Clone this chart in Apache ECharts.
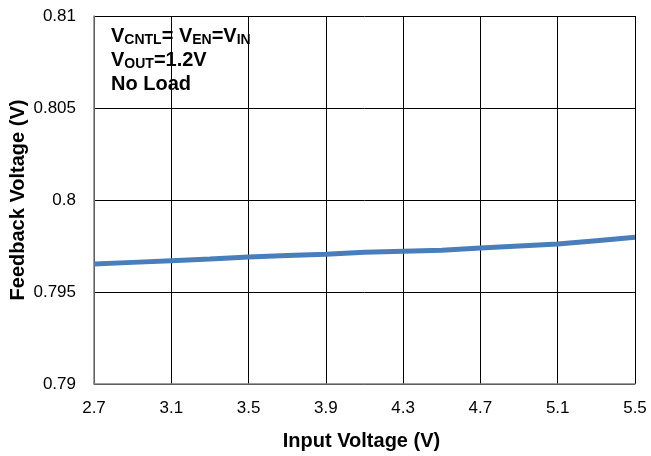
<!DOCTYPE html>
<html><head><meta charset="utf-8">
<script src="https://cdn.jsdelivr.net/npm/echarts@6/dist/echarts.min.js"></script>
<style>html,body{margin:0;padding:0;background:#fff}#c{width:651px;height:456px}</style>
</head><body><div id="c"></div>
<script>
const inputVoltage = [2.7, 2.9, 3.1, 3.3, 3.5, 3.7, 3.9, 4.1, 4.3, 4.5, 4.7, 4.9, 5.1, 5.3, 5.5];
const feedbackVoltage = [0.79652, 0.79661, 0.79670, 0.79679, 0.79690, 0.79698, 0.79705, 0.79716, 0.79722, 0.79727, 0.79739, 0.79750, 0.79761, 0.79779, 0.79797];
const xTicks = [2.7, 3.1, 3.5, 3.9, 4.3, 4.7, 5.1, 5.5];
const yTicks = [0.79, 0.795, 0.8, 0.805, 0.81];
const yTickLabels = ['0.79', '0.795', '0.8', '0.805', '0.81'];

const chart = echarts.init(document.getElementById('c'));
const font = 'Liberation Sans, Arial, sans-serif';
chart.setOption({
  animation: false,
  grid: {left: 94, right: 16, top: 16, bottom: 72, containLabel: false, outerBoundsMode: 'none'},
  xAxis: {
    type: 'value', min: 2.7, max: 5.5,
    name: 'Input Voltage (V)', nameLocation: 'middle', nameGap: 47, nameMoveOverlap: false,
    nameTextStyle: {fontFamily: font, fontWeight: 'bold', fontSize: 20, color: '#000', padding: [0, 6, 0, 0]},
    axisLine: {show: true, lineStyle: {color: '#808080', width: 1.5}},
    axisTick: {show: false, customValues: xTicks},
    axisLabel: {customValues: xTicks, fontFamily: font, fontSize: 17, color: '#000', margin: 16,
      formatter: v => String(Math.round(v * 10) / 10)},
    splitLine: {show: true, lineStyle: {color: '#000', width: 1}}
  },
  yAxis: {
    type: 'value', min: 0.79, max: 0.81, interval: 0.005,
    name: 'Feedback Voltage (V)', nameLocation: 'middle', nameGap: 66, nameRotate: 90, nameMoveOverlap: false,
    nameTextStyle: {fontFamily: font, fontWeight: 'bold', fontSize: 20, color: '#000'},
    axisLine: {show: true, lineStyle: {color: '#808080', width: 1.5}},
    axisTick: {show: false},
    axisLabel: {fontFamily: font, fontSize: 17, color: '#000', margin: 18,
      formatter: v => { const i = yTicks.findIndex(t => Math.abs(t - v) < 1e-9); return i >= 0 ? yTickLabels[i] : ''; }},
    splitLine: {show: true, lineStyle: {color: '#000', width: 1}}
  },
  series: [{
    type: 'line', data: inputVoltage.map((x, i) => [x, feedbackVoltage[i]]),
    showSymbol: false, smooth: false,
    lineStyle: {color: '#4A7EBB', width: 5}
  }],
  graphic: [{
    type: 'text', left: 111, top: 26,
    style: {
      text: '{v|V}{s|CNTL}{v|= V}{s|EN}{v|=V}{s|IN}\n{v|V}{s|OUT}{v|=1.2V}\n{v|No Load}',
      fontFamily: font, fill: '#000',
      rich: {
        v: {fontFamily: font, fontWeight: 'bold', fontSize: 20, lineHeight: 24, fill: '#000'},
        s: {fontFamily: font, fontWeight: 'bold', fontSize: 14, lineHeight: 24, fill: '#000', padding: [7, 0, 0, 0]}
      }
    }
  }]
});
</script></body></html>
